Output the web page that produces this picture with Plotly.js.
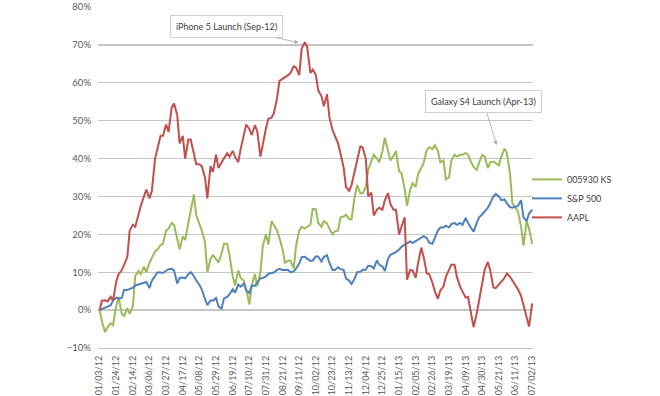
<!DOCTYPE html>
<html>
<head>
<meta charset="utf-8">
<script src="https://cdn.plot.ly/plotly-3.0.1.min.js"></script>
<style>html,body{margin:0;padding:0;background:#fff;}#chart{width:660px;height:396px;}</style>
</head>
<body>
<div id="chart"></div>
<script>
// Sample dates (Tuesdays and Fridays)
const dates = [
"2012-01-03","2012-01-06","2012-01-10","2012-01-13","2012-01-17","2012-01-20","2012-01-24","2012-01-27","2012-01-31","2012-02-03",
"2012-02-07","2012-02-10","2012-02-14","2012-02-17","2012-02-21","2012-02-24","2012-02-28","2012-03-02","2012-03-06","2012-03-09",
"2012-03-13","2012-03-16","2012-03-20","2012-03-23","2012-03-27","2012-03-30","2012-04-03","2012-04-06","2012-04-10","2012-04-13",
"2012-04-17","2012-04-20","2012-04-24","2012-04-27","2012-05-01","2012-05-04","2012-05-08","2012-05-11","2012-05-15","2012-05-18",
"2012-05-22","2012-05-25","2012-05-29","2012-06-01","2012-06-05","2012-06-08","2012-06-12","2012-06-15","2012-06-19","2012-06-22",
"2012-06-26","2012-06-29","2012-07-03","2012-07-06","2012-07-10","2012-07-13","2012-07-17","2012-07-20","2012-07-24","2012-07-27",
"2012-07-31","2012-08-03","2012-08-07","2012-08-10","2012-08-14","2012-08-17","2012-08-21","2012-08-24","2012-08-28","2012-08-31",
"2012-09-04","2012-09-07","2012-09-11","2012-09-14","2012-09-18","2012-09-21","2012-09-25","2012-09-28","2012-10-02","2012-10-05",
"2012-10-09","2012-10-12","2012-10-16","2012-10-19","2012-10-23","2012-10-26","2012-10-30","2012-11-02","2012-11-06","2012-11-09",
"2012-11-13","2012-11-16","2012-11-20","2012-11-23","2012-11-27","2012-11-30","2012-12-04","2012-12-07","2012-12-11","2012-12-14",
"2012-12-18","2012-12-21","2012-12-25","2012-12-28","2013-01-01","2013-01-04","2013-01-08","2013-01-11","2013-01-15","2013-01-18",
"2013-01-22","2013-01-25","2013-01-29","2013-02-01","2013-02-05","2013-02-08","2013-02-12","2013-02-15","2013-02-19","2013-02-22",
"2013-02-26","2013-03-01","2013-03-05","2013-03-08","2013-03-12","2013-03-15","2013-03-19","2013-03-22","2013-03-26","2013-03-29",
"2013-04-02","2013-04-05","2013-04-09","2013-04-12","2013-04-16","2013-04-19","2013-04-23","2013-04-26","2013-04-30","2013-05-03",
"2013-05-07","2013-05-10","2013-05-14","2013-05-17","2013-05-21","2013-05-24","2013-05-28","2013-05-31","2013-06-04","2013-06-07",
"2013-06-11","2013-06-14","2013-06-18","2013-06-21","2013-06-25","2013-06-28","2013-07-02"
];

// 005930 KS (Samsung) cumulative return, %
const samsung = [
0,-3,-5.8,-4.5,-3.5,-4,1,3.5,-1,-1.5,
0.5,-1,1,9,10.3,9.5,11.5,10,12.5,14,
15.5,16,17.2,17.5,21,21.5,23,22.5,18.5,16,
19.5,18.5,23,26.5,30.5,25,23,21,18,10,
13.5,14.5,13.5,12.5,15,17.5,17.5,14.5,9,6.5,
10.5,8.5,7.8,5.5,1.5,6.4,9.5,6.3,10,17,
20,17.3,23.5,22.5,21,19,16,12.5,13,13,
11,17,21,22,21.5,22,22.5,26.7,26.6,23,
22,23.5,22.9,21.5,20,20.8,21,24.5,24.7,25.2,
24,24,30,33,30.9,30.8,32.5,37,39,41,
40,39,42,45.5,42,39.5,40.7,42,36.6,36.2,
32,27.5,31.8,33.5,32.5,36,37.5,38.8,42.3,43,
42.5,43.5,42,39,39.5,34.5,35,39.5,41,40.5,
41,41,41.5,41,39,37.8,37,39,41,40.5,
37.5,39,39.2,38.8,38.2,40.5,42.6,41.5,36,28.2,
27,26,22,17,23.5,21.5,17.5
];

// S&P 500 cumulative return, %
const sp500 = [
0,0.3,0.8,1,1.3,2.5,3.3,3,3.2,5.3,
5.3,5.6,5.9,6.5,6.8,7,7.2,7.4,5.8,7.8,
9,10,9.9,9.8,10.4,10.8,10.9,10.5,7,8.5,
8.6,8.4,9.5,10,9,7.8,6.7,5.4,3,1.3,
2.6,2.5,3.2,1,0.4,3.1,3.5,4.2,5.5,4.6,
6.7,6.2,7,5.2,4.5,6.5,6.4,7.3,8.4,8.5,
8.9,9.6,9.7,9.9,10.6,10.9,10.6,10.6,10.6,10,
10.2,11,12.3,14,14.1,13.6,13,13.1,14.2,14.1,
12.8,14,14.5,12.5,10.6,10.6,11.3,10.8,10.6,8.3,
7.8,6.9,8.3,10,10.1,10.6,10.7,11.7,11.6,11,
13.1,12,11.5,10.3,13.5,14.6,15,15.3,16,16.7,
17.3,17.6,18.1,17.7,18.2,18.7,19.1,19.5,19,17.8,
17.5,19.2,21,21.8,21.8,22.3,21.8,22.7,23,22.5,
23,22.5,24.3,23,21.5,20.7,23,24.5,25.3,26,
27,28.2,30,30.6,30,29,29.2,28.2,27.2,27,
27.2,27.5,29,24.5,23.5,25.5,26.5
];

// AAPL cumulative return, %
const aapl = [
0,2.5,2.6,2.3,3.5,2.5,7.5,9.5,10.5,12,
14,21,22.5,22,25.5,27.5,30,31.8,29.5,31.5,
40,42.3,46,46,49,47,53.5,54.5,51.5,44,
46,40,45,45,41,38.5,38.5,38,35,29.5,
38,36.5,41,37.5,39,40,41.4,40.5,42,40.5,
39,42.5,46.7,49,47.8,46.2,48.8,47.2,40.5,44,
48,50.5,50.8,52,56,60.5,61,61.5,62,62.6,
64.4,64,62,69,70.7,69.5,62.6,63.5,62,58,
56.5,53.8,57,51,47.5,46,44,41.4,37.6,32.5,
31.5,33,37,40,43.2,43,40,30,31,25,
26.5,27,26.5,29,30.9,28,26.5,26.5,20,22,
24.5,8,10.6,10.5,8.5,12.5,16.5,14,9.7,9.5,
7.3,5,3,5.2,6.2,8.8,10.8,12,12,8.7,
6.2,5,3.3,3.5,-1,-4.5,-0.9,2.5,8,10.7,
12.7,10.5,6,5.8,6.8,7.6,8.5,9.7,8.8,7.8,
6.5,5.5,3.7,1.2,-2.3,-4.3,1.8
];

const seriesNames = ["005930 KS","S&P 500","AAPL"];
const seriesColors = ["#9BBB59","#4F81BD","#C0504D"];

const tickDates = ["2012-01-03","2012-01-24","2012-02-14","2012-03-06","2012-03-27","2012-04-17","2012-05-08","2012-05-29","2012-06-19",
"2012-07-10","2012-07-31","2012-08-21","2012-09-11","2012-10-02","2012-10-23","2012-11-13","2012-12-04","2012-12-25","2013-01-15",
"2013-02-05","2013-02-26","2013-03-19","2013-04-09","2013-04-30","2013-05-21","2013-06-11","2013-07-02"];
const tickLabels = ["01/03/12","01/24/12","02/14/12","03/06/12","03/27/12","04/17/12","05/08/12","05/29/12","06/19/12",
"07/10/12","07/31/12","08/21/12","09/11/12","10/02/12","10/23/12","11/13/12","12/04/12","12/25/12","01/15/13",
"02/05/13","02/26/13","03/19/13","04/09/13","04/30/13","05/21/13","06/11/13","07/02/13"];

const FONT = "Lato, 'Open Sans', sans-serif";
const seriesValues = [samsung, sp500, aapl];
const traces = seriesValues.map((vals, i) => ({
  x: dates, y: vals, type: "scatter", mode: "lines", name: seriesNames[i],
  line: {color: seriesColors[i], width: 2, shape: "linear"},
  hoverinfo: "skip"
}));

const layout = {
  width: 660, height: 396,
  margin: {l: 98, r: 127, t: 7, b: 48},
  paper_bgcolor: "#fff", plot_bgcolor: "#fff",
  font: {family: FONT, size: 9, color: "#595959"},
  showlegend: true,
  legend: {x: 0.986, xanchor: "left", y: 0.537, yanchor: "top",
           font: {family: FONT, size: 9, color: "#404040"}, bgcolor: "rgba(0,0,0,0)", tracegroupgap: 0},
  xaxis: {
    type: "date", range: ["2012-01-01", "2013-07-03"],
    tickmode: "array", tickvals: tickDates, ticktext: tickLabels,
    tickangle: -90, showgrid: false, zeroline: false,
    showline: true, linecolor: "#c6c6c6", linewidth: 1.3,
    ticks: "", ticklabelstandoff: 3,
    tickfont: {family: FONT, size: 9, color: "#595959"}
  },
  yaxis: {
    range: [-10, 80], dtick: 10, tick0: 0, ticksuffix: "%",
    showgrid: true, gridcolor: "#c6c6c6", gridwidth: 1.3,
    zeroline: false, showline: false, ticks: "", ticklabelstandoff: 6,
    tickfont: {family: FONT, size: 9.5, color: "#595959"}
  },
  annotations: [
    {x: "2012-09-10", y: 70.6, xref: "x", yref: "y", text: "iPhone 5 Launch (Sep-12)",
     showarrow: true, ax: -72, ay: -16, arrowhead: 2, arrowsize: 1, arrowwidth: 0.8, arrowcolor: "#a6a6a6",
     bgcolor: "#fff", bordercolor: "#cfcfcf", borderwidth: 1, borderpad: 5,
     font: {family: FONT, size: 9, color: "#404040"}},
    {x: "2013-05-18", y: 43.6, xref: "x", yref: "y", text: "Galaxy S4 Launch (Apr-13)",
     showarrow: true, ax: -13, ay: -43, arrowhead: 2, arrowsize: 1, arrowwidth: 0.8, arrowcolor: "#a6a6a6",
     bgcolor: "#fff", bordercolor: "#cfcfcf", borderwidth: 1, borderpad: 5,
     font: {family: FONT, size: 9, color: "#404040"}}
  ]
};

Plotly.newPlot("chart", traces, layout, {displayModeBar: false, staticPlot: true});
</script>
</body>
</html>
